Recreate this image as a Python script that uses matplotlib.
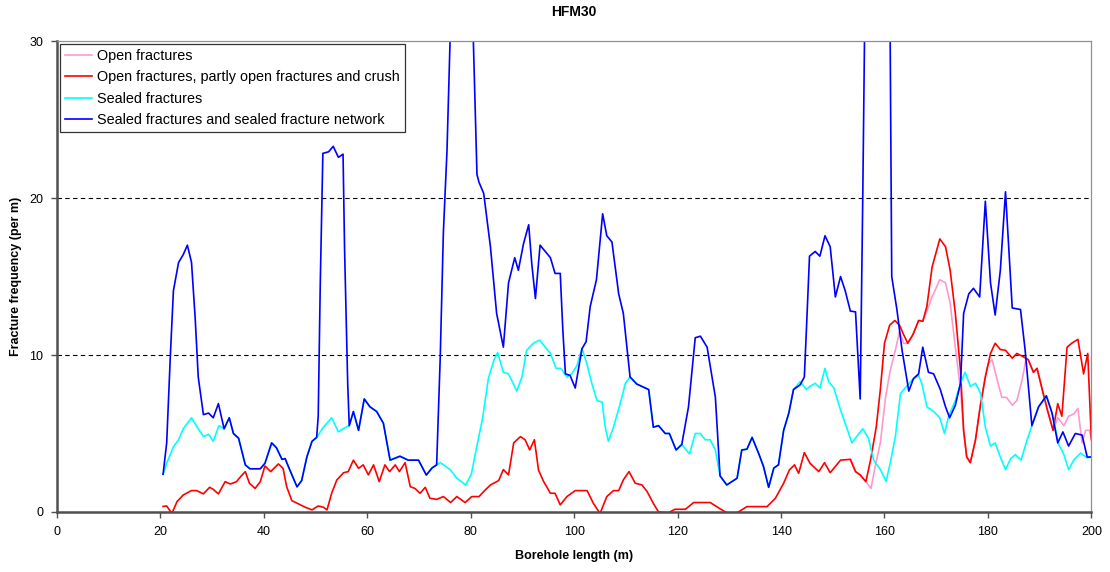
import numpy as np
import matplotlib
matplotlib.use('Agg')
import matplotlib.pyplot as plt

plt.rcParams['font.family'] = ['Liberation Sans', 'DejaVu Sans']

# borehole length (m) and fracture frequency (per m)
blue_x = [20.5, 21.2, 21.9, 22.5, 23.5, 24.4, 25.2, 26.0, 26.7, 27.3, 28.3, 29.3, 30.2, 31.2, 32.3, 33.3,
          34.1, 35.1, 36.4, 37.3, 39.3, 40.2, 41.5, 42.4, 43.5, 44.1, 45.1, 46.4, 47.3, 48.3, 49.3, 50.2,
          50.5, 50.9, 51.4, 52.5, 53.4, 54.4, 55.3, 55.6, 56.2, 56.5, 57.3, 58.3, 59.4, 60.5, 61.8, 63.1,
          64.4, 66.3, 67.9, 69.9, 71.4, 72.5, 73.4, 74.1, 74.7, 75.4, 76.5, 77.5, 78.8, 79.8, 80.5, 81.2,
          81.6, 82.5, 83.8, 85.0, 86.3, 87.3, 88.5, 89.2, 90.2, 91.2, 91.8, 92.5, 93.4, 94.4, 95.4, 96.3,
          97.3, 97.8, 98.3, 99.2, 100.2, 101.5, 102.3, 103.1, 104.3, 105.5, 106.3, 107.3, 108.6, 109.5,
          110.8, 112.1, 114.4, 115.3, 116.3, 117.6, 118.4, 119.7, 120.8, 122.1, 123.4, 124.4, 125.7, 127.3,
          128.2, 129.5, 131.5, 132.4, 133.4, 134.4, 135.7, 136.6, 137.6, 138.6, 139.5, 140.5, 141.5, 142.4,
          143.7, 144.5, 144.9, 145.5, 146.6, 147.5, 148.5, 149.5, 150.5, 151.5, 152.4, 153.4, 154.4, 155.3,
          155.8, 156.3, 157.5, 159.5, 160.8, 161.1, 161.4, 162.4, 163.4, 164.7, 165.6, 166.6, 167.4, 168.5,
          169.5, 170.8, 171.8, 172.6, 173.7, 174.7, 175.3, 176.3, 177.2, 178.4, 179.5, 180.5, 181.4, 182.4,
          183.4, 184.7, 186.3, 187.2, 188.5, 189.8, 191.3, 192.4, 193.5, 194.5, 195.6, 196.9, 198.2, 199.2,
          200.0]
blue_y = [2.4, 4.4, 9.9, 14.1, 15.9, 16.4, 17.0, 15.9, 12.4, 8.6, 6.2, 6.3, 6.0, 6.9, 5.3, 6.0,
          5.0, 4.7, 3.0, 2.75, 2.75, 3.1, 4.4, 4.1, 3.35, 3.4, 2.6, 1.6, 2.0, 3.5, 4.5, 4.75,
          6.1, 14.6, 22.85, 22.95, 23.3, 22.6, 22.8, 16.7, 8.2, 5.5, 6.4, 5.2, 7.2, 6.7, 6.4, 5.65,
          3.3, 3.55, 3.3, 3.3, 2.35, 2.8, 3.0, 9.9, 17.8, 23.0, 36.0, 40.0, 39.0, 35.0, 30.0, 21.5,
          21.0, 20.3, 16.9, 12.65, 10.5, 14.6, 16.2, 15.4, 17.1, 18.3, 15.8, 13.6, 17.0, 16.6, 16.2, 15.2,
          15.2, 11.6, 8.8, 8.7, 7.9, 10.4, 10.85, 13.1, 14.8, 19.0, 17.6, 17.2, 13.9, 12.65,
          8.6, 8.15, 7.8, 5.4, 5.5, 5.0, 5.0, 3.95, 4.3, 6.7, 11.1, 11.2, 10.5, 7.3,
          2.3, 1.72, 2.15, 3.95, 4.0, 4.75, 3.7, 2.9, 1.57, 2.8, 3.0, 5.2, 6.3, 7.8,
          8.1, 8.6, 11.6, 16.3, 16.6, 16.3, 17.6, 16.9, 13.7, 15.0, 14.1, 12.8, 12.75, 7.2,
          20.1, 35.0, 42.0, 42.0, 33.0, 30.0, 15.0, 12.9, 10.3, 7.7, 8.5, 8.8, 10.5, 8.9,
          8.8, 7.8, 6.7, 6.0, 6.8, 8.2, 12.65, 13.9, 14.25, 13.7, 19.8, 14.6, 12.55, 15.4,
          20.4, 13.0, 12.9, 10.3, 5.5, 6.7, 7.4, 6.3, 4.4, 5.1, 4.2, 5.0, 4.9, 3.5,
          3.5]

cyan_x = [20.5, 21.2, 22.5, 23.5, 24.4, 26.0, 27.3, 28.3, 29.3, 30.2, 31.3, 32.3, 33.3, 34.1, 35.1, 36.4,
          37.3, 39.3, 40.2, 41.5, 42.4, 43.5, 44.1, 45.1, 46.4, 47.3, 48.3, 49.3, 50.2, 51.5, 53.1, 54.4,
          55.3, 56.5, 57.3, 58.3, 59.4, 60.5, 61.8, 63.1, 64.4, 66.3, 67.9, 69.9, 71.4, 72.5, 74.1, 76.0,
          77.3, 79.0, 80.1, 81.0, 82.3, 83.4, 84.5, 85.2, 86.3, 87.3, 88.9, 89.9, 90.8, 92.1, 93.3, 94.4,
          95.4, 96.5, 97.4, 98.6, 99.5, 100.5, 101.5, 102.4, 103.4, 104.4, 105.4, 106.0, 106.6, 107.6,
          108.9, 109.9, 110.8, 112.1, 114.4, 115.3, 116.3, 117.6, 118.4, 119.7, 120.8, 122.3, 123.4, 124.4,
          125.3, 126.3, 127.3, 128.2, 129.5, 131.5, 132.4, 133.4, 134.4, 135.7, 136.6, 137.6, 138.6, 139.5,
          140.5, 141.5, 142.4, 143.7, 144.9, 145.6, 146.6, 147.5, 148.5, 149.2, 150.2, 151.5, 152.4, 153.7,
          154.6, 155.8, 156.9, 157.9, 159.2, 160.3, 161.1, 162.1, 163.1, 164.0, 165.3, 166.6, 167.2, 168.2,
          169.5, 170.7, 171.6, 172.4, 173.7, 174.7, 175.6, 176.6, 177.6, 178.6, 179.5, 180.5, 181.4, 182.4,
          183.4, 184.4, 185.3, 186.4, 187.4, 188.5, 189.8, 191.3, 192.4, 193.7, 194.7, 195.6, 196.6, 197.9,
          199.2, 200.0]
cyan_y = [2.4, 3.1, 4.15, 4.6, 5.3, 6.0, 5.3, 4.8, 4.95, 4.5, 5.5, 5.3, 6.0, 5.0, 4.7, 3.0,
          2.75, 2.75, 3.1, 4.4, 4.1, 3.35, 3.4, 2.6, 1.6, 2.0, 3.5, 4.5, 4.75, 5.4, 6.0, 5.1,
          5.3, 5.5, 6.4, 5.2, 7.2, 6.7, 6.4, 5.65, 3.3, 3.55, 3.3, 3.3, 2.35, 2.8, 3.15, 2.7,
          2.15, 1.72, 2.4, 3.9, 6.0, 8.5, 9.7, 10.15, 8.9, 8.8, 7.7, 8.6, 10.3, 10.75, 10.95, 10.5,
          10.1, 9.15, 9.15, 8.6, 8.8, 9.3, 10.4, 9.5, 8.2, 7.1, 7.0, 5.4, 4.5, 5.4,
          6.9, 8.2, 8.6, 8.15, 7.8, 5.4, 5.5, 5.0, 5.0, 3.95, 4.3, 3.7, 5.0, 5.0,
          4.6, 4.6, 3.95, 2.3, 1.72, 2.15, 3.95, 4.0, 4.75, 3.7, 2.9, 1.57, 2.8, 3.0,
          5.2, 6.3, 7.8, 8.3, 7.8, 8.0, 8.2, 7.9, 9.15, 8.3, 7.9, 6.5, 5.65, 4.4,
          4.8, 5.3, 4.7, 3.3, 2.7, 1.95, 3.1, 4.8, 7.55, 7.9, 8.4, 8.7, 8.2, 6.7,
          6.4, 6.0, 5.0, 6.1, 7.1, 8.2, 8.9, 8.0, 8.2, 7.55, 5.4, 4.2, 4.4, 3.5,
          2.7, 3.4, 3.65, 3.3, 4.4, 5.5, 6.7, 7.4, 6.3, 4.3, 3.65, 2.7, 3.3, 3.75,
          3.45, 3.5]

red_x = [20.5, 21.2, 22.2, 23.2, 24.4, 26.0, 27.0, 28.3, 29.5, 30.2, 31.2, 32.5, 33.5, 34.7, 35.5, 36.4,
         37.2, 38.3, 39.3, 40.2, 41.3, 42.8, 43.7, 44.4, 45.4, 46.7, 48.0, 49.3, 50.5, 51.5, 52.2, 53.1,
         54.1, 55.4, 56.3, 57.3, 58.3, 59.2, 60.2, 61.2, 62.3, 63.4, 64.3, 65.4, 66.2, 67.3, 68.3, 69.2,
         70.2, 71.2, 72.1, 73.4, 74.7, 76.1, 77.3, 78.9, 80.2, 81.6, 82.5, 83.8, 85.4, 86.3, 87.3, 88.3,
         89.6, 90.5, 91.4, 92.3, 93.1, 94.1, 95.4, 96.3, 97.3, 98.6, 100.2, 102.5, 103.7, 105.0, 106.3,
         107.6, 108.6, 109.5, 110.6, 111.8, 113.1, 114.1, 115.3, 116.3, 118.2, 119.5, 121.5, 123.1, 126.3,
         128.2, 129.5, 131.5, 133.4, 135.3, 137.3, 138.9, 140.5, 141.6, 142.6, 143.4, 144.5, 145.6, 147.3,
         148.4, 149.5, 150.5, 151.5, 153.4, 154.4, 155.3, 156.4, 157.3, 158.4, 159.2, 160.0, 161.0, 162.0,
         162.9, 163.7, 164.5, 165.5, 166.6, 167.4, 168.2, 169.2, 170.7, 171.8, 172.7, 173.7, 174.7, 175.3,
         175.9, 176.6, 177.6, 178.5, 179.5, 180.5, 181.4, 182.4, 183.4, 184.7, 185.6, 186.8, 187.8, 188.8,
         189.5, 190.5, 191.5, 192.6, 193.5, 194.3, 195.3, 196.2, 197.4, 198.5, 199.3, 200.0]
red_y = [0.35, 0.38, -0.1, 0.66, 1.08, 1.36, 1.36, 1.15, 1.57, 1.44, 1.15, 1.93, 1.78, 1.93, 2.25, 2.57,
         1.83, 1.5, 1.93, 2.93, 2.57, 3.06, 2.78, 1.61, 0.72, 0.51, 0.3, 0.13, 0.38, 0.3, 0.13, 1.19,
         2.04, 2.5, 2.57, 3.3, 2.78, 3.0, 2.36, 3.0, 1.93, 3.0, 2.57, 3.0, 2.57, 3.14, 1.61, 1.5,
         1.19, 1.57, 0.87, 0.8, 0.98, 0.6, 0.98, 0.6, 0.98, 0.98, 1.3, 1.72, 2.0, 2.7, 2.36, 4.4,
         4.8, 4.6, 3.95, 4.6, 2.67, 1.93, 1.19, 1.19, 0.45, 0.98, 1.36, 1.36, 0.55, -0.1, 0.98,
         1.36, 1.36, 2.04, 2.57, 1.83, 1.72, 1.3, 0.55, 0.0, -0.05, 0.17, 0.17, 0.6, 0.6,
         0.2, -0.05, -0.05, 0.34, 0.34, 0.34, 0.87, 1.83, 2.67, 3.0, 2.46, 3.78, 3.1, 2.57,
         3.14, 2.5, 2.9, 3.3, 3.35, 2.57, 2.36, 1.93, 3.3, 5.4, 7.8, 10.75, 11.9, 12.2,
         11.9, 11.3, 10.75, 11.3, 12.2, 12.15, 13.1, 15.6, 17.4, 16.9, 15.4, 12.65, 9.0, 5.2,
         3.5, 3.14, 4.6, 6.7, 8.6, 10.1, 10.75, 10.35, 10.3, 9.8, 10.1, 9.9, 9.7, 8.9,
         9.15, 7.8, 6.5, 5.2, 6.9, 6.1, 10.5, 10.75, 11.0, 8.8, 10.1, 4.6]

pink_x = [153.4, 154.4, 155.3, 156.4, 157.4, 158.2, 159.2, 160.2, 161.1, 162.1, 162.9, 163.7, 164.5, 165.5,
          166.6, 167.4, 168.2, 169.2, 170.7, 171.8, 172.7, 173.7, 174.7, 175.3, 175.9, 176.6, 177.6, 178.5,
          179.5, 180.0, 180.8, 181.8, 182.7, 183.6, 184.7, 185.6, 186.6, 187.4, 187.8, 188.8, 189.5, 190.5,
          191.5, 192.6, 193.5, 194.7, 195.6, 196.6, 197.4, 198.2, 198.9, 199.6, 200.0]
pink_y = [3.35, 2.57, 2.36, 1.93, 1.5, 2.9, 4.4, 7.3, 9.0, 10.3, 11.5, 10.75, 10.75, 11.3,
          12.2, 12.15, 12.8, 13.7, 14.8, 14.6, 13.3, 10.5, 7.8, 5.2, 3.5, 3.14, 4.6, 6.7,
          8.6, 9.4, 9.7, 8.4, 7.3, 7.3, 6.8, 7.1, 8.4, 9.8, 9.7, 8.9, 9.15, 7.8,
          6.5, 5.2, 6.0, 5.5, 6.1, 6.24, 6.6, 4.4, 5.2, 5.2, 4.7]

labels = ['Open fractures',
          'Open fractures, partly open fractures and crush',
          'Sealed fractures',
          'Sealed fractures and sealed fracture network']


def plot_hfm30():
    fig = plt.figure(figsize=(11.1, 5.72), dpi=100)
    ax = fig.add_axes([0.0514, 0.105, 0.9318, 0.823])

    ax.plot(pink_x, pink_y, color='#FF99CC', lw=1.2, label=labels[0])
    ax.plot(red_x, red_y, color='#FF0000', lw=1.2, label=labels[1])
    ax.plot(cyan_x, cyan_y, color='#00FFFF', lw=1.2, label=labels[2])
    ax.plot(blue_x, blue_y, color='#0000FF', lw=1.2, label=labels[3])

    ax.set_xlim(0, 200)
    ax.set_ylim(0, 30)
    ax.set_xticks(np.arange(0, 201, 20))
    ax.set_yticks([0, 10, 20, 30])
    for yv in [10, 20]:
        ax.axhline(yv, color='black', lw=0.8, ls=(0, (4, 3)), zorder=0)

    for s in ['top', 'right']:
        ax.spines[s].set_color('#909090')
        ax.spines[s].set_linewidth(0.9)
    for s in ['left', 'bottom']:
        ax.spines[s].set_color('#505050')
        ax.spines[s].set_linewidth(1.8)
    ax.tick_params(direction='out', length=4, width=1, color='#505050', labelsize=9, pad=6)

    ax.set_title('HFM30', fontsize=10, fontweight='bold', pad=18)
    ax.set_xlabel('Borehole length (m)', fontsize=9, fontweight='bold', labelpad=9)
    ax.set_ylabel('Fracture frequency (per m)', fontsize=9, fontweight='bold', labelpad=5)

    leg = ax.legend(loc='upper left', fontsize=10.4, frameon=True, fancybox=False,
                    edgecolor='black', handlelength=1.9, borderaxespad=0.2,
                    borderpad=0.35, labelspacing=0.5, handletextpad=0.35)
    leg.get_frame().set_linewidth(0.9)

    fig.savefig('out.png', dpi=100)


if __name__ == '__main__':
    plot_hfm30()
